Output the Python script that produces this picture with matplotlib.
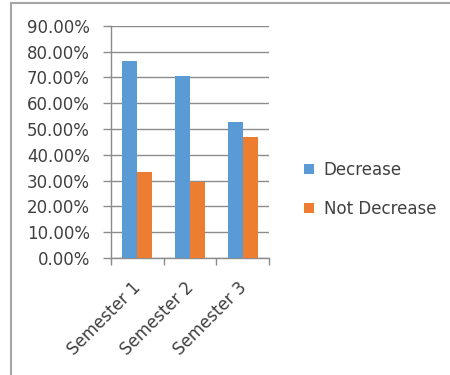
import matplotlib
matplotlib.use("Agg")
import matplotlib.pyplot as plt
from matplotlib.patches import Patch
from matplotlib.lines import Line2D
from matplotlib.ticker import FuncFormatter, FixedLocator, NullFormatter
from matplotlib.transforms import ScaledTranslation
import numpy as np

# Data
categories = ["Semester 1", "Semester 2", "Semester 3"]
decrease = [76.2, 70.5, 52.9]
not_decrease = [33.3, 29.5, 47.1]
series_names = ["Decrease", "Not Decrease"]
yticks = [0, 10, 20, 30, 40, 50, 60, 70, 80, 90]

BLUE = "#5B9BD5"
ORANGE = "#ED7D31"
GRID = "#8c8c8c"
TEXT = "#404040"

plt.rcParams["font.family"] = ["DejaVu Sans"]

fig = plt.figure(figsize=(4.5, 3.75), dpi=100)
fig.patch.set_facecolor("white")
ax = fig.add_axes([0.246, 0.312, 0.352, 0.619])

x = np.arange(len(categories))
w = 0.285
ax.bar(x - w / 2, decrease, width=w, color=BLUE, zorder=3)
ax.bar(x + w / 2, not_decrease, width=w, color=ORANGE, zorder=3)

ax.set_xlim(-0.5, len(categories) - 0.5)
ax.set_ylim(0, 90)
ax.set_yticks(yticks)
ax.yaxis.set_major_formatter(FuncFormatter(lambda v, p: f"{v:.2f}%"))
ax.yaxis.grid(True, color=GRID, linewidth=1.0, zorder=0)

# x ticks at category boundaries, labels at centers
ax.xaxis.set_major_locator(FixedLocator(np.arange(-0.5, len(categories), 1.0)))
ax.xaxis.set_major_formatter(NullFormatter())
ax.xaxis.set_minor_locator(FixedLocator(x))
ax.set_xticklabels(categories, minor=True, rotation=45, ha="right",
                   rotation_mode="anchor", fontsize=12, color=TEXT)
ax.tick_params(axis="x", which="minor", length=0, pad=6)
ax.tick_params(axis="x", which="major", length=5, width=1.0, color=GRID)
ax.tick_params(axis="y", length=6, width=1.0, color=GRID, labelsize=12,
               labelcolor=TEXT, pad=9)

# nudge the rotated category labels down and to the left
shift = ScaledTranslation(-5 / 100, -12 / 100, fig.dpi_scale_trans)
for lab in ax.get_xticklabels(minor=True):
    lab.set_transform(lab.get_transform() + shift)

for s in ["top", "right"]:
    ax.spines[s].set_visible(False)
for s in ["left", "bottom"]:
    ax.spines[s].set_color(GRID)
    ax.spines[s].set_linewidth(1.0)

handles = [Patch(facecolor=BLUE, edgecolor="none"),
           Patch(facecolor=ORANGE, edgecolor="none")]
fig.legend(handles, series_names, loc="center left",
           bbox_to_anchor=(0.643, 0.495), frameon=False, fontsize=12,
           handlelength=0.55, handleheight=0.55, handletextpad=0.6,
           labelspacing=1.3, labelcolor=TEXT)

# Frame lines on the left and top edges
fig.add_artist(Line2D([11 / 450, 11 / 450], [-0.01, 1 - 3 / 375],
                      transform=fig.transFigure, color="#a6a6a6", linewidth=1.5))
fig.add_artist(Line2D([11 / 450, 1.01], [1 - 3 / 375, 1 - 3 / 375],
                      transform=fig.transFigure, color="#a6a6a6", linewidth=1.5))

fig.savefig("out.png", dpi=100, facecolor="white")
